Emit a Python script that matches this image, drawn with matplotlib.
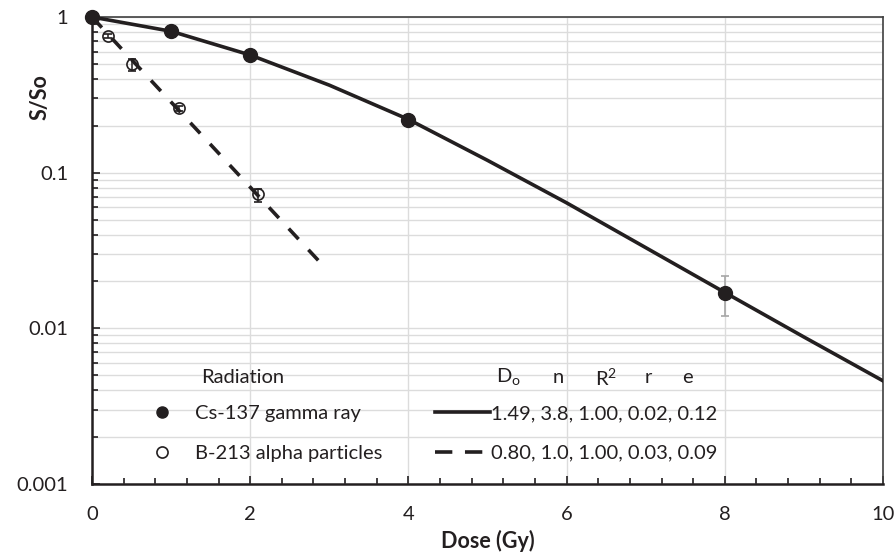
import matplotlib
matplotlib.use("Agg")
import matplotlib.pyplot as plt
from matplotlib.lines import Line2D
from matplotlib.ticker import MultipleLocator, LogLocator, FuncFormatter, NullFormatter

plt.rcParams["font.family"] = ["Lato", "DejaVu Sans"]
plt.rcParams["mathtext.fontset"] = "custom"
plt.rcParams["mathtext.rm"] = "Lato"

gamma_dose = [0, 1, 2, 4, 8]
gamma_sf = [1.0, 0.815, 0.57, 0.218, 0.0168]
gamma_err_lo = [0, 0, 0, 0, 0.0048]
gamma_err_hi = [0, 0, 0, 0, 0.0050]

alpha_dose = [0.2, 0.5, 1.1, 2.1]
alpha_sf = [0.755, 0.50, 0.26, 0.073]
alpha_err_lo = [0.02, 0.05, 0.01, 0.008]
alpha_err_hi = [0.02, 0.04, 0.01, 0.006]

# fitted curves
gamma_fit_dose = [0, 1, 2, 3, 4, 5, 6, 7, 8, 9, 10]
gamma_fit_sf = [1.0, 0.81, 0.57, 0.365, 0.22, 0.12, 0.064, 0.033, 0.017, 0.0088, 0.0046]
alpha_fit_dose = [0, 2.9]
alpha_fit_sf = [1.0, 0.026]

radiation_labels = ["Cs-137 gamma ray", "B-213 alpha particles"]
fit_labels = ["1.49, 3.8, 1.00, 0.02, 0.12", "0.80, 1.0, 1.00, 0.03, 0.09"]
fit_headers = ["D$_\\mathregular{o}$", "n", "R$^\\mathregular{2}$", "r", "e"]

ink = "#231f20"
grid_col = "#dcdcdc"
legend_fs = 14.5
line_w = 2.6

fig = plt.figure(figsize=(8.96, 5.6), dpi=100)
ax = fig.add_axes([0.1027, 0.1357, 0.8828, 0.8339])

ax.plot(gamma_fit_dose, gamma_fit_sf, color=ink, lw=line_w, zorder=3)
ax.plot(alpha_fit_dose, alpha_fit_sf, color=ink, lw=line_w, dashes=(4, 4), zorder=3)

ax.errorbar(gamma_dose, gamma_sf, yerr=[gamma_err_lo, gamma_err_hi], fmt="none",
            ecolor="#a6a6a6", elinewidth=1.2, capsize=3, capthick=1.2, zorder=2)
ax.plot(gamma_dose, gamma_sf, "o", color=ink, ms=10, zorder=4, clip_on=False)

ax.errorbar(alpha_dose, alpha_sf, yerr=[alpha_err_lo, alpha_err_hi], fmt="o",
            color=ink, mfc="none", mec=ink, ms=8, mew=1.2,
            elinewidth=1.1, capsize=3, capthick=1.1, zorder=4)

ax.set_yscale("log")
ax.set_xlim(0, 10)
ax.set_ylim(0.001, 1)

ax.xaxis.set_major_locator(MultipleLocator(2))
ax.xaxis.set_minor_locator(MultipleLocator(0.4))
ax.yaxis.set_major_locator(LogLocator(base=10))
ax.yaxis.set_minor_locator(LogLocator(base=10, subs=range(2, 10)))
ax.yaxis.set_major_formatter(FuncFormatter(lambda v, _: f"{v:g}"))
ax.yaxis.set_minor_formatter(NullFormatter())

ax.grid(True, axis="x", which="major", color=grid_col, lw=1)
ax.grid(True, axis="y", which="both", color=grid_col, lw=1)
ax.set_axisbelow(True)

ax.tick_params(which="both", direction="in", color=ink, width=1.2, labelsize=14.5,
               labelcolor=ink)
ax.tick_params(which="major", length=6)
ax.tick_params(which="minor", length=4.5)
ax.tick_params(axis="x", which="both", pad=16)
ax.tick_params(axis="y", which="both", pad=17)

for side in ["left", "bottom"]:
    ax.spines[side].set_linewidth(1.8)
    ax.spines[side].set_color(ink)
for side in ["top", "right"]:
    ax.spines[side].set_linewidth(1.2)
    ax.spines[side].set_color("#404040")

ax.set_xlabel("Dose (Gy)", fontsize=15.5, fontweight="bold", color=ink, labelpad=5)
ax.set_ylabel("S/So", fontsize=15.5, fontweight="bold", color=ink)
ax.yaxis.set_label_coords(-0.052, 0.829)

# legend: markers with sources, lines with fit parameters
marker_handles = [
    Line2D([], [], ls="none", marker="o", color=ink, ms=8),
    Line2D([], [], ls="none", marker="o", mfc="none", mec=ink, ms=8, mew=1.2),
]
line_handles = [
    Line2D([], [], color=ink, lw=line_w),
    Line2D([], [], color=ink, lw=line_w, dashes=(4.8, 3.5)),
]
leg1 = ax.legend(marker_handles, radiation_labels, loc="center left",
                 bbox_to_anchor=(0.078, 0.108), frameon=False, fontsize=legend_fs,
                 handlelength=0.8, handletextpad=1.24, labelspacing=1.1,
                 borderpad=0, borderaxespad=0)
for t in leg1.get_texts():
    t.set_color(ink)
ax.add_artist(leg1)
leg2 = ax.legend(line_handles, fit_labels, loc="center left",
                 bbox_to_anchor=(0.4336, 0.108), frameon=False, fontsize=legend_fs,
                 handlelength=2.74, handletextpad=0.05, labelspacing=1.1,
                 borderpad=0, borderaxespad=0)
for t in leg2.get_texts():
    t.set_color(ink)

ax.text(0.191, 0.228, "Radiation", transform=ax.transAxes, ha="center",
        va="center", fontsize=legend_fs, color=ink)
for xpos, head in zip([0.526, 0.589, 0.650, 0.703, 0.753], fit_headers):
    ax.text(xpos, 0.228, head, transform=ax.transAxes, ha="center",
            va="center", fontsize=legend_fs, color=ink)

fig.savefig("out.png", dpi=100)
